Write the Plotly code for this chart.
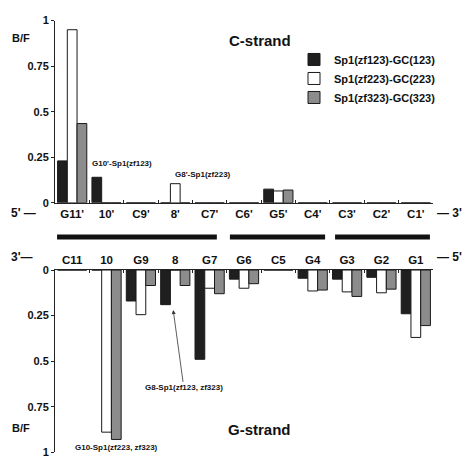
import plotly.graph_objects as go

# Bases along each strand (left to right)
c_strand_bases = ["G11'", "10'", "C9'", "8'", "C7'", "C6'", "G5'", "C4'", "C3'", "C2'", "C1'"]
g_strand_bases = ["C11", "10", "G9", "8", "G7", "G6", "C5", "G4", "G3", "G2", "G1"]

series_names = ["Sp1(zf123)-GC(123)", "Sp1(zf223)-GC(223)", "Sp1(zf323)-GC(323)"]

# B/F values, C-strand
c_zf123 = [0.23, 0.14, 0, 0, 0, 0, 0.075, 0, 0, 0, 0]
c_zf223 = [0.95, 0, 0, 0.105, 0, 0, 0.065, 0, 0, 0, 0]
c_zf323 = [0.435, 0, 0, 0, 0, 0, 0.07, 0, 0, 0, 0]

# B/F values, G-strand
g_zf123 = [0, 0, 0.17, 0.19, 0.49, 0.05, 0, 0.045, 0.05, 0.04, 0.24]
g_zf223 = [0, 0.89, 0.245, 0, 0.10, 0.10, 0, 0.115, 0.12, 0.125, 0.37]
g_zf323 = [0, 0.93, 0.085, 0.085, 0.13, 0.075, 0, 0.11, 0.145, 0.105, 0.305]

y_ticks = [0, 0.25, 0.5, 0.75, 1]
y_tick_text = ["0", "0.25", "0.5", "0.75", "1"]

fills = ["#1f1f1f", "#ffffff", "#8c8c8c"]
FONT = "Liberation Sans, Arial, sans-serif"
W, H = 465, 466


def px(x):
    return x / W


def py(y):
    return 1 - y / H


fig = go.Figure()

for name, vals, col in zip(series_names, [c_zf123, c_zf223, c_zf323], fills):
    fig.add_trace(go.Bar(x=c_strand_bases, y=vals, name=name, marker_color=col,
                         marker_line=dict(color="#1a1a1a", width=1),
                         xaxis="x", yaxis="y", legendgroup=name))

for name, vals, col in zip(series_names, [g_zf123, g_zf223, g_zf323], fills):
    fig.add_trace(go.Bar(x=g_strand_bases, y=vals, name=name, marker_color=col,
                         marker_line=dict(color="#1a1a1a", width=1),
                         xaxis="x2", yaxis="y2", legendgroup=name, showlegend=False))

bold = dict(family=FONT, size=11, color="#111", weight="bold")
cat_font = dict(family=FONT, size=11.5, color="#111", weight="bold")

x_dom = [px(55), px(433)]
common_x = dict(domain=x_dom, type="category", range=[-0.5, 10.5], showline=True,
                linecolor="#222", linewidth=1, ticks="inside", tickson="boundaries",
                ticklen=3, tickcolor="#222", tickfont=cat_font, showgrid=False,
                zeroline=False, fixedrange=True)
common_y = dict(showline=True, linecolor="#222", linewidth=1, ticks="outside",
                ticklen=3, tickcolor="#222", tickvals=y_ticks, ticktext=y_tick_text,
                tickfont=bold, showgrid=False, zeroline=False, fixedrange=True)

fig.update_layout(
    width=W, height=H, margin=dict(l=0, r=0, t=0, b=0),
    paper_bgcolor="white", plot_bgcolor="white",
    barmode="group", bargap=0.15, bargroupgap=0,
    font=dict(family=FONT, color="#111"),
    xaxis=dict(common_x, anchor="y", side="bottom"),
    yaxis=dict(common_y, domain=[py(202), py(15)], range=[0, 1], anchor="x"),
    xaxis2=dict(common_x, anchor="y2", side="top"),
    yaxis2=dict(common_y, domain=[py(458), py(271)], range=[1, 0], anchor="x2"),
    legend=dict(x=px(294), y=py(40), xanchor="left", yanchor="top",
                font=dict(family=FONT, size=11, color="#111", weight="bold"),
                bgcolor="rgba(0,0,0,0)", tracegroupgap=0),
    showlegend=True,
)

# Strand-pairing bars between the two panels
for x0, x1 in [(-0.44, 4.21), (4.59, 7.36), (7.65, 10.41)]:
    fig.add_shape(type="line", xref="x", yref="paper", x0=x0, x1=x1,
                  y0=py(237), y1=py(237), line=dict(color="#111", width=5))

ann = []


def text(x, y, s, size=11, xanchor="center", xref="paper", yref="paper"):
    ann.append(dict(x=x, y=y, xref=xref, yref=yref, text=s, showarrow=False,
                    xanchor=xanchor, yanchor="middle",
                    font=dict(family=FONT, size=size, color="#111", weight="bold")))


text(px(260), py(35), "C-strand", size=15)
text(px(259), py(435), "G-strand", size=15)
text(px(10), py(33), "B/F", xanchor="left")
text(px(10), py(433), "B/F", xanchor="left")
text(px(9), py(212), "5' —", size=12, xanchor="left")
text(px(464), py(212), "— 3'", size=12, xanchor="right")
text(px(9), py(258), "3'—", size=12, xanchor="left")
text(px(464), py(258), "— 5'", size=12, xanchor="right")

text(1.45, 0.213, "G10'-Sp1(zf123)", size=8, xref="x", yref="y")
text(3.81, 0.154, "G8'-Sp1(zf223)", size=8, xref="x", yref="y")
text(1.28, 0.973, "G10-Sp1(zf223, zf323)", size=8, xref="x2", yref="y2")

ann.append(dict(x=2.94, y=0.22, xref="x2", yref="y2", ax=3.25, ay=0.647,
                axref="x2", ayref="y2", text="G8-Sp1(zf123, zf323)", showarrow=True,
                arrowhead=2, arrowsize=1, arrowwidth=0.8, arrowcolor="#333",
                font=dict(family=FONT, size=8, color="#111", weight="bold")))

fig.update_layout(annotations=ann)

fig.write_html("out.html")
